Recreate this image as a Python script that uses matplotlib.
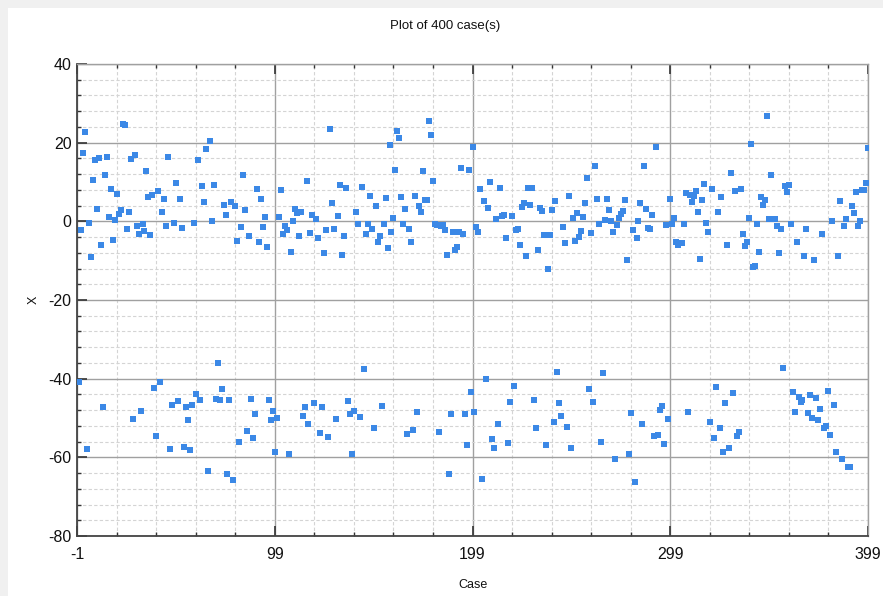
import numpy as np
import matplotlib
matplotlib.use("Agg")
import matplotlib.pyplot as plt
from matplotlib.ticker import MultipleLocator, FixedLocator

plt.rcParams['font.family'] = ['Liberation Sans', 'DejaVu Sans']
plt.rcParams['axes.unicode_minus'] = False

title_text = "Plot of 400 case(s)"
x_label = "Case"
y_label = "X"

# values of X for cases 0..399
values_000_052 = [-40.9, -2.3, 17.5, 22.6, -57.8, -0.5, -9.0, 10.6, 15.7, 3.1,
                  16.0, -6.1, -47.2, 11.9, 16.4, 1.2, 8.2, -4.7, 0.3, 6.9,
                  1.8, 2.9, 24.8, 24.4, -1.9, 2.5, 15.9, -50.3, 16.8, -1.2,
                  -3.1, -48.1, -0.7, -2.5, 12.9, 6.3, -3.4, 6.8, -42.4, -54.7,
                  7.7, -40.8, 2.4, 5.8, -1.2, 16.4, -58.0, -46.8, -0.3, 9.7,
                  -45.7, 5.8, -1.7]
values_053_102 = [-57.3, -47.1, -50.6, -58.1, -46.6, -0.4, -43.8, 15.6, -45.5, 9.1,
                  4.9, 18.5, -63.6, 20.4, 0.2, 9.3, -45.1, -35.9, -45.3, -42.5,
                  4.2, 1.5, -64.2, -45.4, 4.8, -65.8, 3.9, -5.0, -56.0, -1.5,
                  11.7, 3.0, -53.4, -3.7, -45.1, -55.2, -49.1, 8.3, -5.3, 5.8,
                  -1.4, 1.0, -6.6, -45.5, -50.6, -48.3, -58.6, -49.9, 1.2, 8.0]
values_103_152 = [-3.3, -1.3, -2.2, -59.2, -7.8, 0.2, 3.2, 2.0, -3.7, 2.3,
                  -49.6, -47.3, 10.3, -51.6, -2.9, 1.6, -46.1, 0.6, -4.2, -53.8,
                  -47.2, -8.1, -2.1, -54.9, 23.5, 4.7, -1.9, -50.2, 1.3, 9.2,
                  -8.6, -3.7, 8.6, -45.8, -49.0, -59.1, -48.1, 2.3, -0.8, -49.7,
                  8.8, -37.5, -3.3, -0.8, 6.4, -1.9, -52.6, 3.9, -5.2, -3.7]
values_153_204 = [-46.9, -0.8, 6.0, -6.7, 19.5, -2.6, 0.9, 13.1, 23.0, 21.2,
                  6.1, -0.7, 3.1, -54.0, -1.9, -5.3, -53.1, 6.4, -48.5, 3.9,
                  2.5, 12.9, 5.3, 5.3, 25.4, 21.9, 10.3, -0.7, -0.9, -53.5,
                  -1.3, -1.0, -2.1, -8.6, -64.3, -49.1, -2.8, -7.3, -6.6, -2.6,
                  13.6, -3.1, -49.1, -56.8, 13.1, -43.5, 18.9, -48.5, -1.4, -2.6,
                  8.2, -65.6]
values_205_254 = [5.1, -40.0, 3.3, 9.9, -55.3, -57.5, 0.5, -51.4, 8.4, 1.4,
                  1.5, -4.2, -56.4, -45.9, 1.4, -41.9, -2.3, -1.9, -6.0, 3.7,
                  4.6, -8.7, 8.5, 4.1, 8.6, -45.3, -52.5, -7.3, 3.5, 2.7,
                  -3.6, -56.9, -12.0, -3.4, 3.0, -51.0, 5.1, -38.3, -46.3, -49.6,
                  -1.5, -5.6, -52.3, 6.5, -57.6, 0.9, -5.1, 2.1, -3.9, -2.5]
values_255_305 = [1.2, 4.7, 11.0, -42.7, -2.9, -46.0, 14.1, 5.8, -0.8, -56.1,
                  -38.6, 0.4, 5.8, 2.9, 0.1, -2.7, -60.3, -0.9, 0.9, 1.9,
                  2.6, 5.3, -9.8, -59.2, -48.8, -2.3, -66.3, -4.3, 0.0, 4.7,
                  -51.5, 14.0, 3.2, -1.8, -1.9, 1.7, -54.7, 18.9, -54.4, -47.9,
                  -46.9, -56.7, -1.0, -50.3, 5.7, -0.6, 0.8, -5.2, -6.0, -5.6,
                  -5.4]
values_306_355 = [-0.8, 7.1, -48.6, 6.7, 5.0, 6.4, 7.7, 2.5, -9.7, 5.5,
                  9.5, -0.4, -2.8, -51.0, 8.3, -55.0, -42.1, 2.5, -52.5, 6.2,
                  -58.6, -46.1, -6.1, -57.5, 12.2, -43.6, 7.7, -54.7, -53.6, 8.3,
                  -3.1, -6.3, -5.2, 0.8, 19.7, -11.7, -11.4, -0.8, -7.7, 6.3,
                  4.1, 5.3, 26.9, 0.6, 11.9, 0.7, 0.7, -1.2, -8.0, -1.9]
values_356_399 = [-37.2, 9.1, 7.5, 9.2, -0.8, -43.4, -48.4, -5.2, -44.6, -45.9,
                  -45.5, -8.7, -2.0, -48.7, -44.2, -49.9, -9.9, -44.8, -50.5, -47.6,
                  -3.2, -52.6, -52.0, -43.2, -54.4, 0.0, -46.6, -58.6, -8.9, 5.2,
                  -60.5, -1.3, 0.5, -62.5, -62.5, 4.0, 2.1, 7.5, -1.2, 0.0,
                  7.9, 8.0, 9.7, 18.7]

values = (values_000_052 + values_053_102 + values_103_152 + values_153_204 +
          values_205_254 + values_255_305 + values_306_355 + values_356_399)
cases = np.arange(len(values))

x_major_ticks = [-1, 99, 199, 299, 399]
x_tick_labels = ["-1", "99", "199", "299", "399"]
y_major_ticks = [-80, -60, -40, -20, 0, 20, 40]

fig = plt.figure(figsize=(8.83, 5.96), dpi=100)
fig.patch.set_facecolor('#f0f0f0')
# white panel behind the chart
panel = plt.Rectangle((8 / 883, 0), 1 - 8 / 883, 1 - 8 / 596,
                      transform=fig.transFigure, facecolor='white',
                      edgecolor='none', zorder=-10)
fig.patches.append(panel)

ax = fig.add_axes([77.3 / 883, 1 - 536 / 596, (867.7 - 77.3) / 883, (536 - 64) / 596])
ax.set_facecolor('white')

ax.scatter(cases, values, marker='s', s=22, color='#3b88e6', linewidths=0, zorder=3)

ax.set_xlim(-1, 399)
ax.set_ylim(-80, 40)
ax.xaxis.set_major_locator(FixedLocator(x_major_ticks))
ax.set_xticklabels(x_tick_labels)
ax.xaxis.set_minor_locator(FixedLocator([v for v in range(-1, 400, 20) if v not in x_major_ticks]))
ax.yaxis.set_major_locator(FixedLocator(y_major_ticks))
ax.yaxis.set_minor_locator(MultipleLocator(4))

ax.grid(which='major', color='#a0a0a0', linewidth=1.0, linestyle='-', zorder=1)
ax.grid(which='minor', color='#d4d4d4', linewidth=0.8, linestyle=(0, (3, 2)), zorder=1)
ax.set_axisbelow(True)

for side in ['left', 'bottom']:
    ax.spines[side].set_color('#444444')
    ax.spines[side].set_linewidth(1.3)
for side in ['top', 'right']:
    ax.spines[side].set_color('#a0a0a0')
    ax.spines[side].set_linewidth(1.0)

ax.tick_params(which='major', direction='in', length=7, width=1.2, color='#333333',
               labelsize=11.5, labelcolor='#111111', top=True, right=False, pad=4)
ax.tick_params(which='minor', direction='in', length=3, width=1.0, color='#333333',
               top=True, right=False)
ax.tick_params(axis='x', which='major', pad=8)

fig.text(445.5 / 883, 1 - 26 / 596, title_text, fontsize=9.5, color='#111111',
         ha='center', va='center')
ax.set_xlabel(x_label, fontsize=9, color='#111111', labelpad=12)
ax.set_ylabel(y_label, fontsize=9, color='#111111', labelpad=6)

fig.savefig('out.png', dpi=100, facecolor=fig.get_facecolor())
